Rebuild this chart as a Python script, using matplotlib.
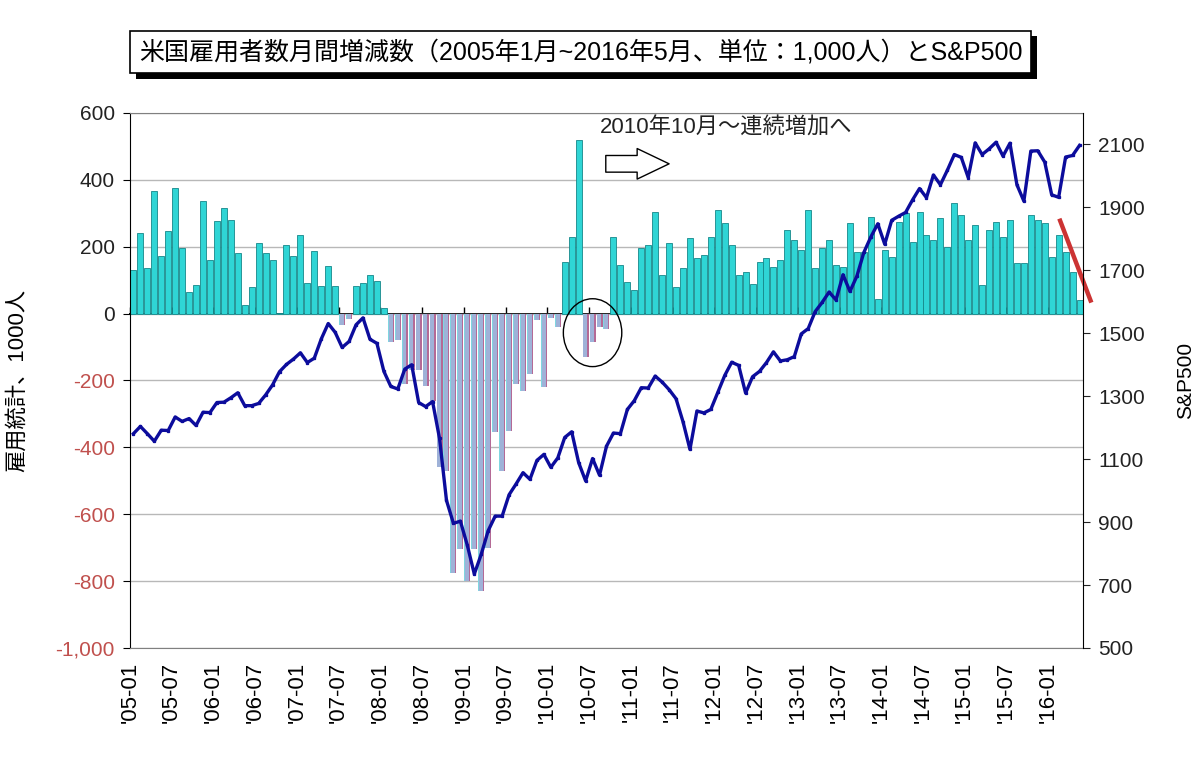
import matplotlib
matplotlib.use("Agg")
import matplotlib.pyplot as plt
import matplotlib.patheffects as pe
from matplotlib.patches import Ellipse
import numpy as np

plt.rcParams['font.family'] = ['Liberation Sans', 'Noto Sans CJK JP', 'DejaVu Sans']

# monthly change in US payrolls (1,000 persons), 2005-01 .. 2016-05
payrolls = [
    130, 241, 135, 366, 171, 246, 376, 197, 66, 86, 336, 161,        # 2005
    276, 315, 281, 181, 25, 81, 211, 181, 161, 2, 206, 171,          # 2006
    236, 92, 186, 82, 141, 82, -33, -15, 82, 92, 116, 97,            # 2007
    16, -84, -78, -212, -170, -168, -215, -262, -458, -470, -775, -705,  # 2008
    -800, -705, -830, -700, -355, -470, -352, -212, -232, -180, -20, -218,  # 2009
    -12, -40, 155, 230, 520, -130, -85, -40, -45, 230, 145, 95,      # 2010
    70, 195, 205, 305, 115, 210, 80, 135, 225, 165, 175, 230,        # 2011
    310, 270, 205, 115, 125, 90, 155, 165, 140, 160, 250, 220,       # 2012
    190, 310, 135, 195, 220, 145, 140, 270, 185, 185, 290, 45,       # 2013
    190, 170, 275, 300, 215, 305, 235, 220, 285, 200, 330, 295,      # 2014
    220, 265, 85, 250, 275, 230, 280, 150, 150, 295, 280, 270,       # 2015
    170, 235, 185, 125, 40,                                          # 2016
]

# S&P500 month-end close
sp500 = [
    1181, 1204, 1181, 1157, 1192, 1191, 1234, 1220, 1229, 1207, 1249, 1248,
    1280, 1281, 1295, 1311, 1270, 1270, 1277, 1304, 1336, 1378, 1401, 1418,
    1438, 1407, 1421, 1482, 1531, 1503, 1455, 1474, 1527, 1549, 1481, 1468,
    1379, 1331, 1323, 1386, 1400, 1280, 1267, 1283, 1166, 969, 896, 903,
    826, 735, 798, 873, 919, 919, 987, 1021, 1057, 1036, 1096, 1115,
    1074, 1104, 1169, 1187, 1089, 1031, 1102, 1049, 1141, 1183, 1181, 1258,
    1286, 1327, 1326, 1364, 1345, 1321, 1292, 1219, 1131, 1253, 1247, 1258,
    1312, 1366, 1408, 1398, 1310, 1362, 1379, 1407, 1441, 1412, 1416, 1426,
    1498, 1515, 1569, 1598, 1631, 1606, 1686, 1633, 1682, 1757, 1806, 1848,
    1783, 1859, 1872, 1884, 1924, 1960, 1931, 2003, 1972, 2018, 2068, 2059,
    1995, 2105, 2068, 2086, 2107, 2063, 2104, 1972, 1920, 2079, 2080, 2044,
    1940, 1932, 2060, 2065, 2097,
]

tick_labels = ["'05-01", "'05-07", "'06-01", "'06-07", "'07-01", "'07-07",
               "'08-01", "'08-07", "'09-01", "'09-07", "'10-01", "'10-07",
               "'11-01", "'11-07", "'12-01", "'12-07", "'13-01", "'13-07",
               "'14-01", "'14-07", "'15-01", "'15-07", "'16-01"]

left_ticks = [-1000, -800, -600, -400, -200, 0, 200, 400, 600]
left_labels = ['-1,000', '-800', '-600', '-400', '-200', '0', '200', '400', '600']
right_ticks = [500, 700, 900, 1100, 1300, 1500, 1700, 1900, 2100]

title = '米国雇用者数月間増減数（2005年1月~2016年5月、単位：1,000人）とS&P500'
note = '2010年10月～連続増加へ'

n = len(payrolls)
x = np.arange(n) + 0.5
vals = np.array(payrolls)
pos = vals >= 0
neg = ~pos

fig = plt.figure(figsize=(12, 7.75), dpi=100)
ax = fig.add_axes([0.1083, 0.1639, 0.7942, 0.6903])

ax.bar(x[pos], vals[pos], width=0.86, color='#2fd5d5', edgecolor='#16888a', linewidth=0.6, zorder=2)
ax.bar(x[neg], vals[neg], width=0.86, color='#9fb2d8', edgecolor='none', zorder=2)
# pink right edge / teal left edge of the gradient-filled negative bars
ax.bar(x[neg] + 0.34, vals[neg], width=0.18, color='#b46a96', edgecolor='none', zorder=2)
ax.bar(x[neg] - 0.37, vals[neg], width=0.12, color='#80d6e0', edgecolor='none', zorder=2)

ax.set_xlim(0, n)
ax.set_ylim(-1000, 600)
ax.set_yticks(left_ticks, left_labels)
ax.yaxis.grid(True, color='#b8b8b8', linewidth=1)
ax.set_axisbelow(True)
ax.tick_params(axis='y', direction='out', length=5, labelsize=15, pad=6)
for lbl, v in zip(ax.get_yticklabels(), left_ticks):
    lbl.set_color('#c0504d' if v < 0 else '#222222')

ax.set_xticks(np.arange(0, n, 6), tick_labels, rotation=90)
ax.tick_params(axis='x', length=0, labelsize=16, pad=10)
ax.set_ylabel('雇用統計、1000人', fontsize=16, labelpad=20)

ax.spines['left'].set_color('black')
ax.spines['top'].set_color('#808080')
ax.spines['bottom'].set_color('#808080')
ax.spines['right'].set_visible(False)

# category axis crossing at zero, tick marks pointing up
sec = ax.secondary_xaxis(0.625)
sec.set_xticks(np.arange(0, n + 1, 6))
sec.tick_params(axis='x', direction='out', length=5, width=1, labeltop=False, labelbottom=False, color='black')
sec.spines['top'].set_color('black')
sec.spines['top'].set_linewidth(1.4)
sec.spines['bottom'].set_color('black')
sec.spines['bottom'].set_linewidth(1.4)

ax2 = ax.twinx()
ax2.plot(x, sp500, color='#0c0c9c', linewidth=2.4, marker='s', markersize=1.4, zorder=5)
ax2.set_ylim(500, 2200)
ax2.set_yticks(right_ticks)
ax2.tick_params(axis='y', direction='out', length=5, labelsize=15, pad=6, colors='#222222')
ax2.set_ylabel('S&P500', fontsize=15, labelpad=22)
ax2.spines['right'].set_color('black')
for s in ['top', 'bottom', 'left']:
    ax2.spines[s].set_visible(False)

# annotations
ax.text(67.6, 555, note, fontsize=16, color='#222222', va='center', ha='left',
        family=['Liberation Sans', 'Noto Sans CJK JP'])
ax.annotate('', xy=(77.5, 448), xytext=(68.4, 448),
            arrowprops=dict(arrowstyle='simple,head_length=1.15,head_width=1.1,tail_width=0.6',
                            mutation_scale=20, fc='white', ec='black', lw=1,
                            shrinkA=0, shrinkB=0))
ax.add_patch(Ellipse((66.5, -57), width=8.4, height=203, fill=False,
                     edgecolor='black', linewidth=1, zorder=6))
ax.plot([133.6, 138.2], [284, 33], color='#cc3333', linewidth=3.2,
        solid_capstyle='butt', clip_on=False, zorder=6)

t = fig.text(0.484, 0.933, title, fontsize=18, ha='center', va='center',
             bbox=dict(boxstyle='square,pad=0.35', fc='white', ec='black', lw=1.2))
t.get_bbox_patch().set_path_effects([pe.withSimplePatchShadow(offset=(4, -4), shadow_rgbFace='black', alpha=1)])

fig.savefig('out.png', dpi=100, facecolor='white')
